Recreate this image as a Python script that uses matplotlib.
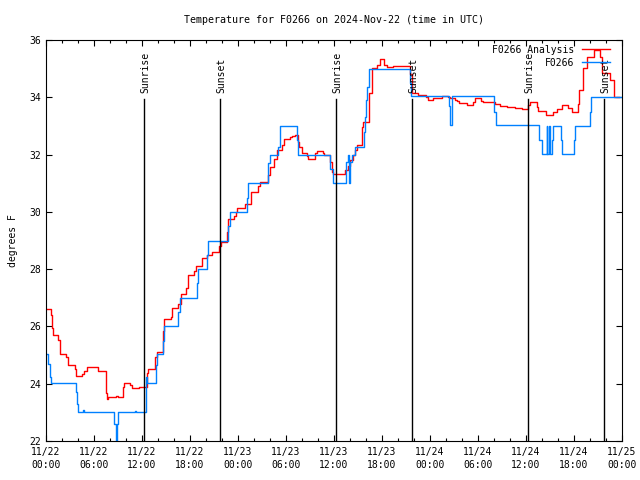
import matplotlib
matplotlib.use("Agg")
import matplotlib.pyplot as plt
from matplotlib.ticker import MultipleLocator

# hours since 2024-11-22 00:00 UTC
red_h = [0, 0.62, 0.71, 0.84, 1.54, 1.75, 2.54, 2.79, 3.62, 3.75, 4.54, 4.75, 5.09, 6.54,
         7.5, 7.66, 7.72, 7.79, 8.75, 8.96, 9.59, 9.75, 10.5, 10.75, 11.6, 12.59, 12.75,
         13.6, 13.84, 14.59, 14.79, 15.59, 15.79, 16.54, 16.84, 17.5, 17.79, 18.54, 18.75,
         19.54, 20.09, 20.79, 21.6, 21.9, 22.59, 22.79, 23.5, 23.75, 23.9, 24.9, 25.6,
         26.54, 26.75, 27.79, 28.0, 28.5, 28.84, 29.54, 29.79, 30.5, 30.71, 31.12, 31.44,
         31.66, 32.0, 32.59, 32.79, 33.62, 33.84, 34.59, 34.69, 35.5, 35.69, 35.84, 37.38,
         37.79, 38.0, 38.41, 38.62, 38.84, 39.46, 39.66, 40.41, 40.71, 41.34, 41.75, 42.25,
         42.59, 43.41, 43.62, 45.5, 45.69, 46.54, 47.5, 47.79, 48.41, 49.46, 50.29, 50.5,
         51.12, 51.4, 51.66, 52.59, 53.41, 53.62, 54.34, 54.59, 56.12, 56.75, 57.59, 58.62,
         59.46, 60.29, 60.5, 61.34, 61.54, 62.5, 63.41, 63.84, 64.46, 65.29, 65.71, 66.54,
         66.66, 67.16, 67.66, 68.5, 69.25, 69.46, 70.5, 70.96, 71.6]
red_v = [26.62, 26.39, 25.93, 25.69, 25.52, 25.03, 24.94, 24.67, 24.53, 24.26, 24.35, 24.45,
         24.57, 24.45, 23.66, 23.45, 23.5, 23.54, 23.58, 23.54, 23.89, 24.04, 23.95, 23.86,
         23.87, 24.36, 24.53, 24.94, 25.09, 25.85, 26.25, 26.34, 26.63, 26.8, 27.12, 27.33,
         27.79, 27.95, 28.12, 28.38, 28.49, 28.61, 28.81, 28.96, 29.3, 29.74, 29.86, 30.0,
         30.15, 30.26, 30.68, 30.9, 31.05, 31.3, 31.56, 31.85, 32.16, 32.35, 32.53, 32.6,
         32.66, 32.69, 32.45, 32.28, 32.07, 31.95, 31.85, 32.07, 32.14, 32.05, 31.99, 31.75,
         31.4, 31.32, 31.46, 31.6, 31.81, 32.0, 32.16, 32.33, 32.95, 33.15, 34.14, 35.01,
         35.13, 35.33, 35.13, 35.05, 35.08, 35.1, 34.8, 34.14, 34.08, 34.02, 33.91, 33.99,
         34.05, 34.0, 33.96, 33.92, 33.88, 33.79, 33.73, 33.85, 33.96, 33.88, 33.82, 33.76,
         33.7, 33.67, 33.61, 33.58, 33.73, 33.85, 33.67, 33.52, 33.38, 33.5, 33.59, 33.73,
         33.62, 33.5, 33.75, 34.26, 35.01, 35.42, 35.65, 35.4, 34.84, 34.6, 34.02, 34.02]

blue_h = [0, 0.25, 0.45, 0.58, 3.75, 3.9, 4.04, 4.6, 4.75, 8.54, 8.75, 8.91, 9.04, 11.15,
          11.3, 12.5, 12.6, 13.75, 13.9, 14.6, 14.7, 16.54, 16.75, 18.84, 19.04, 20.09,
          20.29, 22.79, 23.0, 25.09, 25.29, 27.79, 28.0, 29.04, 29.3, 31.34, 31.54, 35.5,
          35.84, 37.46, 37.7, 37.85, 38.0, 38.2, 38.62, 39.75, 39.9, 40.0, 40.15, 40.33,
          45.5, 45.6, 50.42, 50.55, 50.7, 56.0, 56.25, 61.66, 61.96, 62.58, 62.66, 62.91,
          63.0, 63.29, 63.41, 64.4, 64.46, 66.0, 66.13, 68.0, 68.13, 72.0]
blue_v = [25.03, 24.7, 24.24, 24.01, 23.7, 23.3, 23.0, 23.08, 23.0, 22.6, 22.0, 22.6, 23.0,
          23.06, 23.0, 24.24, 24.01, 24.65, 25.03, 25.5, 26.0, 26.5, 27.0, 27.5, 28.0, 28.5,
          29.0, 29.5, 30.0, 30.5, 31.0, 31.7, 32.0, 32.25, 33.0, 32.5, 32.0, 31.5, 31.0,
          31.75, 32.0, 31.0, 31.75, 32.0, 32.28, 32.8, 33.32, 33.9, 34.37, 35.0, 34.5, 34.05,
          33.7, 33.03, 34.05, 33.5, 33.03, 32.5, 32.02, 33.01, 32.02, 33.01, 32.02, 32.5,
          33.01, 32.5, 32.02, 32.5, 33.01, 33.5, 34.02, 34.02]

sun_h = [12.29, 21.79, 36.29, 45.79, 60.29, 69.79]
sun_lbl = ["Sunrise", "Sunset", "Sunrise", "Sunset", "Sunrise", "Sunset"]

xtick_h = [0, 6, 12, 18, 24, 30, 36, 42, 48, 54, 60, 66, 72]
xtick_lbl = ["11/22\n00:00", "11/22\n06:00", "11/22\n12:00", "11/22\n18:00",
             "11/23\n00:00", "11/23\n06:00", "11/23\n12:00", "11/23\n18:00",
             "11/24\n00:00", "11/24\n06:00", "11/24\n12:00", "11/24\n18:00",
             "11/25\n00:00"]

FONT = "DejaVu Sans Mono"
plt.rcParams['font.family'] = FONT
fs = 7

fig = plt.figure(figsize=(6.4, 4.8), dpi=100)
ax = fig.add_axes([46/640, 1 - 441/480, 576/640, 401/480])

ax.plot(red_h, red_v, drawstyle='steps-post', color='#ff0000', lw=1.0, label='F0266 Analysis')
ax.plot(blue_h, blue_v, drawstyle='steps-post', color='#0080ff', lw=1.0, label='F0266')

for h, lb in zip(sun_h, sun_lbl):
    ax.plot([h, h], [22, 33.95], color='black', lw=1.0)
    ax.text(h + 0.15, 34.15, lb, rotation=90, ha='center', va='bottom', fontsize=fs)

ax.set_xlim(0, 72)
ax.set_ylim(22, 36)
ax.set_xticks(xtick_h)
ax.set_xticklabels(xtick_lbl, fontsize=fs, linespacing=1.45)
ax.xaxis.set_minor_locator(MultipleLocator(2))
ax.set_yticks(range(22, 37, 2))
ax.tick_params(axis='y', labelsize=fs)
ax.tick_params(which='both', direction='in', top=True, right=True, width=0.8)
ax.tick_params(which='major', length=4)
ax.tick_params(which='minor', length=2.2)
ax.tick_params(axis='x', pad=4)
for s in ax.spines.values():
    s.set_linewidth(0.8)

ax.set_ylabel('degrees F', fontsize=fs, labelpad=8)
ax.set_title('Temperature for F0266 on 2024-Nov-22 (time in UTC)', fontsize=7.2, pad=12)

leg = ax.legend(loc='upper right', bbox_to_anchor=(1 - 7/576, 1), frameon=False,
                markerfirst=False, fontsize=fs,
                handlelength=2.9, handletextpad=0.8, labelspacing=0.3,
                borderaxespad=0.3, borderpad=0.2)
for t in leg.get_texts():
    t.set_ha('right')

fig.savefig('out.png', dpi=100)
